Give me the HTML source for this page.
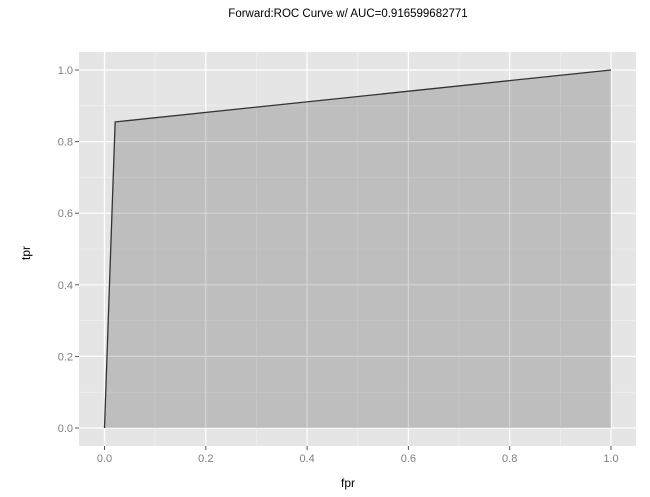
<!DOCTYPE html>
<html><head><meta charset="utf-8"><style>
body{margin:0;background:#fff;font-family:"Liberation Sans",sans-serif}
svg text{font-family:"Liberation Sans",sans-serif}
</style></head><body>
<svg width="650" height="492">
<text x="348" y="17" font-size="11.5" text-anchor="middle" fill="#000">Forward:ROC Curve w/ AUC=0.916599682771</text>
<rect x="79" y="52" width="557" height="394" fill="#e5e5e5"/>
<g id="grid"></g>
<path id="area" fill="#000" fill-opacity="0.17"/>
<path id="line" fill="none" stroke="#333" stroke-width="1.3"/>
<g id="axes"></g>
<text x="348" y="487" font-size="12" text-anchor="middle">fpr</text>
<text x="30" y="253" font-size="12" text-anchor="middle" transform="rotate(-90 30 253)">tpr</text>
</svg>
<script>
const fpr=[0,0.021,1];
const tpr=[0,0.855,1];
const xTicks=["0.0","0.2","0.4","0.6","0.8","1.0"];
const yTicks=["0.0","0.2","0.4","0.6","0.8","1.0"];
const sx=v=>104.5+v*506.5, sy=v=>428-v*358;
const NS="http://www.w3.org/2000/svg";
const g=document.getElementById('grid'), ax=document.getElementById('axes');
function mk(p,tag,a){const e=document.createElementNS(NS,tag);for(const k in a)e.setAttribute(k,a[k]);p.appendChild(e);return e;}
for(let i=0;i<=10;i++){
 const v=i/10, major=i%2==0;
 const lx=mk(g,'line',{x1:sx(v),x2:sx(v),y1:52,y2:446,stroke:major?'#fff':'#f2f2f2','stroke-width':major?1.2:0.6});
 
 
 const ly=mk(g,'line',{x1:79,x2:636,y1:sy(v),y2:sy(v),stroke:major?'#fff':'#f2f2f2','stroke-width':major?1.2:0.6});
 
 
}
xTicks.forEach(t=>{const x=sx(+t);
 mk(ax,'line',{x1:x,x2:x,y1:446,y2:450,stroke:'#555'});
 const e=mk(ax,'text',{x:x,y:462,'font-size':11,fill:'#7f7f7f','text-anchor':'middle'});e.textContent=t;
 
 
});
yTicks.forEach(t=>{const y=sy(+t);
 mk(ax,'line',{x1:75,x2:79,y1:y,y2:y,stroke:'#555'});
 const e=mk(ax,'text',{x:73,y:y+4,'font-size':11,fill:'#7f7f7f','text-anchor':'end'});e.textContent=t;
 
 
});
let d=fpr.map((v,i)=>(i?'L':'M')+sx(v)+','+sy(tpr[i])).join('');
document.getElementById('line').setAttribute('d',d);
document.getElementById('area').setAttribute('d',d+'L'+sx(fpr[fpr.length-1])+','+sy(0)+'L'+sx(fpr[0])+','+sy(0)+'Z');
</script>
</body></html>
